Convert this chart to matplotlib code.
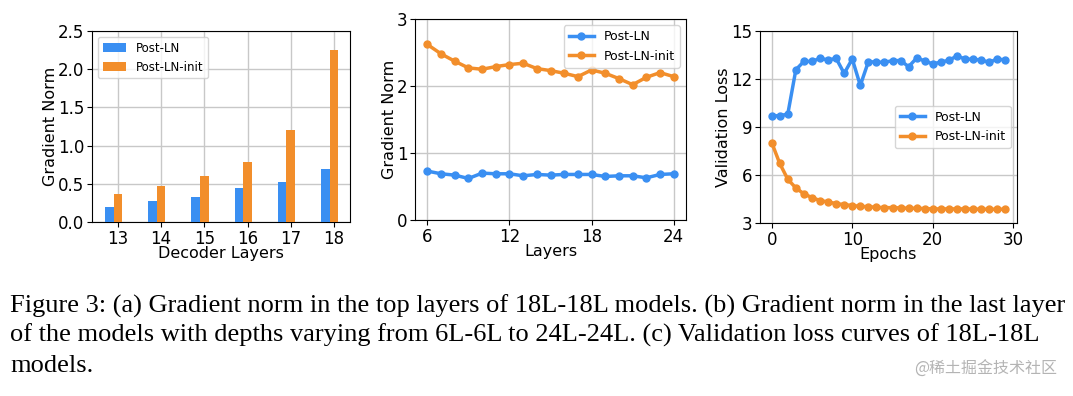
import matplotlib
matplotlib.use("Agg")
import matplotlib.pyplot as plt
import numpy as np

# (a) gradient norm per decoder layer
dec_layers = [13, 14, 15, 16, 17, 18]
a_post_ln = [0.19, 0.27, 0.33, 0.44, 0.53, 0.69]
a_post_ln_init = [0.37, 0.47, 0.60, 0.79, 1.21, 2.25]

# (b) gradient norm of last layer vs depth
depths = list(range(6, 25))
b_post_ln = [0.73, 0.69, 0.67, 0.62, 0.70, 0.69, 0.69, 0.66, 0.68, 0.67,
             0.68, 0.68, 0.68, 0.65, 0.66, 0.66, 0.63, 0.68, 0.69]
b_post_ln_init = [2.62, 2.48, 2.37, 2.27, 2.25, 2.29, 2.32, 2.34, 2.26, 2.23,
                  2.19, 2.14, 2.24, 2.19, 2.11, 2.02, 2.13, 2.20, 2.14]

# (c) validation loss per epoch
epochs = list(range(30))
c_post_ln = [9.70, 9.70, 9.81, 12.58, 13.10, 13.10, 13.29, 13.19, 13.29, 12.35,
             13.25, 11.60, 13.08, 13.06, 13.04, 13.15, 13.15, 12.77, 13.31, 13.13,
             12.94, 13.06, 13.17, 13.44, 13.25, 13.23, 13.19, 13.04, 13.25, 13.19]
c_post_ln_init = [8.03, 6.72, 5.73, 5.19, 4.82, 4.59, 4.40, 4.32, 4.21, 4.15,
                  4.09, 4.04, 4.02, 3.98, 3.96, 3.96, 3.94, 3.92, 3.92, 3.90,
                  3.88, 3.88, 3.88, 3.88, 3.88, 3.87, 3.86, 3.86, 3.86, 3.86]

caption_lines = [
    "Figure 3: (a) Gradient norm in the top layers of 18L-18L models. (b) Gradient norm in the last layer",
    "of the models with depths varying from 6L-6L to 24L-24L. (c) Validation loss curves of 18L-18L",
    "models.",
]

blue = "#3a8ff2"
orange = "#f28e2b"
fs = 11.5   # axis labels
tfs = 12    # tick labels

fig = plt.figure(figsize=(10.73, 3.96), dpi=100)

# (a)
ax1 = fig.add_axes([0.0857, 0.4394, 0.2404, 0.4823])
x = np.array(dec_layers)
ax1.bar(x - 0.2, a_post_ln, width=0.2, color=blue, label="Post-LN", zorder=3)
ax1.bar(x, a_post_ln_init, width=0.2, color=orange, label="Post-LN-init", zorder=3)
ax1.set_xlim(12.4, 18.37)
ax1.set_ylim(0, 2.5)
ax1.set_xticks(dec_layers)
ax1.set_yticks([0, 0.5, 1.0, 1.5, 2.0, 2.5])
ax1.set_xlabel("Decoder Layers", fontsize=fs, labelpad=-1)
ax1.set_ylabel("Gradient Norm", fontsize=fs, labelpad=0)
ax1.legend(loc="upper left", fontsize=8.5)

# (b)
ax2 = fig.add_axes([0.3868, 0.4444, 0.2526, 0.5076])
ax2.plot(depths, b_post_ln, "-o", color=blue, lw=2.5, ms=5, label="Post-LN")
ax2.plot(depths, b_post_ln_init, "-o", color=orange, lw=2.5, ms=5, label="Post-LN-init")
ax2.set_ylim(0, 3)
ax2.set_xticks([6, 12, 18, 24])
ax2.set_yticks([0, 1, 2, 3])
ax2.set_xlabel("Layers", fontsize=fs, labelpad=-1)
ax2.set_ylabel("Gradient Norm", fontsize=fs, labelpad=0)
ax2.legend(loc="upper right", fontsize=9)

# (c)
ax3 = fig.add_axes([0.7083, 0.4369, 0.2395, 0.4848])
ax3.plot(epochs, c_post_ln, "-o", color=blue, lw=2.5, ms=5, label="Post-LN")
ax3.plot(epochs, c_post_ln_init, "-o", color=orange, lw=2.5, ms=5, label="Post-LN-init")
ax3.set_ylim(3, 15)
ax3.set_xticks([0, 10, 20, 30])
ax3.set_yticks([3, 6, 9, 12, 15])
ax3.set_xlabel("Epochs", fontsize=fs, labelpad=-1)
ax3.set_ylabel("Validation Loss", fontsize=fs, labelpad=0)
ax3.legend(loc="center right", bbox_to_anchor=(1.0, 0.5), fontsize=9)

for ax in (ax1, ax2, ax3):
    ax.grid(True, color="#c8c8c8", lw=1, zorder=0)
    ax.set_axisbelow(True)
    ax.tick_params(labelsize=tfs, length=3.5, pad=2)

# caption, one text per line at the baselines of the reference
W, H = 1073, 396
baselines = [313, 342, 372]
texts = []
for line, yb in zip(caption_lines, baselines):
    t = fig.text(10 / W, 1 - yb / H, line, fontsize=16, family="Liberation Serif",
                 va="baseline", ha="left")
    texts.append(t)

# scale the font so the first line spans the same width as in the reference
renderer = fig.canvas.get_renderer()
w0 = texts[0].get_window_extent(renderer).width
size = 16 * 1052 / w0
for t in texts:
    t.set_fontsize(size)

fig.text(0.985, 1 - 369 / H, "@稀土掘金技术社区", fontsize=11.5, color="#b4b4b4",
         family=["Noto Sans CJK SC", "DejaVu Sans"], ha="right", va="center")

fig.savefig("out.png", dpi=100)
